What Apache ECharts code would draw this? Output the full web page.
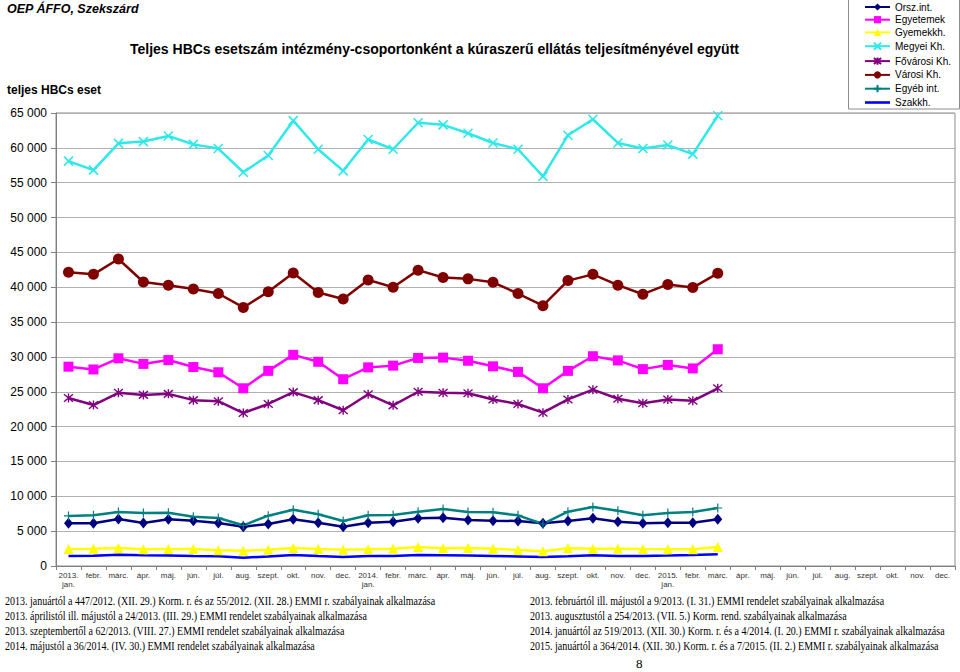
<!DOCTYPE html>
<html>
<head>
<meta charset="utf-8">
<script src="https://cdn.jsdelivr.net/npm/echarts@6/dist/echarts.min.js"></script>
<style>
html,body{margin:0;padding:0;background:#fff;}
#chart{width:960px;height:672px;}
</style>
</head>
<body>
<div id="chart"></div>
<script>
const categories = [
  '2013.\njan.','febr.','márc.','ápr.','máj.','jún.','júl.','aug.','szept.','okt.','nov.','dec.',
  '2014.\njan.','febr.','márc.','ápr.','máj.','jún.','júl.','aug.','szept.','okt.','nov.','dec.',
  '2015.\njan.','febr.','márc.','ápr.','máj.','jún.','júl.','aug.','szept.','okt.','nov.','dec.'
];
const yTicks = { min: 0, max: 65000, interval: 5000 };

const orszInt   = [6130,6130,6740,6170,6700,6500,6170,5640,6030,6700,6210,5640,6210,6360,6840,6930,6600,6500,6460,6130,6460,6840,6360,6130,6210,6210,6700];
const egyetemek = [28600,28200,29800,29000,29550,28550,27800,25500,28000,30300,29300,26800,28500,28750,29850,29900,29450,28650,27850,25500,28000,30100,29500,28250,28850,28350,31100];
const gyermek   = [2440,2490,2580,2400,2440,2440,2250,2200,2340,2580,2440,2340,2400,2490,2730,2540,2580,2490,2300,2110,2540,2490,2490,2440,2400,2400,2730];
const megyei    = [58100,56800,60650,60900,61700,60500,59900,56500,58900,63900,59800,56700,61200,59800,63600,63300,62100,60700,59800,55900,61800,64100,60700,59900,60400,59100,64600];
const fovarosi  = [24100,23100,24850,24550,24700,23800,23650,21950,23250,24950,23800,22350,24650,23050,25000,24850,24800,23900,23250,22000,23900,25300,24000,23350,23900,23700,25500];
const varosi    = [42150,41850,44050,40750,40300,39750,39100,37100,39350,42050,39250,38300,41050,40000,42450,41400,41200,40700,39100,37350,40950,41850,40300,39000,40400,39950,42000];
const egyeb     = [7180,7270,7750,7600,7650,7080,6890,5840,7220,8080,7420,6460,7270,7320,7790,8180,7750,7700,7270,6030,7790,8470,7940,7270,7600,7750,8320];
const szakkh    = [1430,1480,1620,1540,1500,1430,1390,1190,1360,1580,1430,1290,1430,1430,1580,1540,1500,1430,1360,1290,1390,1540,1430,1430,1500,1580,1680];

const seriesNames = ['Orsz.int.','Egyetemek','Gyemekkh.','Megyei Kh.','Fővárosi Kh.','Városi Kh.','Egyéb int.','Szakkh.'];

const footLeft = [
  '2013. januártól a 447/2012. (XII. 29.) Korm. r. és az 55/2012. (XII. 28.) EMMI r. szabályainak alkalmazása',
  '2013. áprilistól ill. májustól a 24/2013. (III. 29.) EMMI rendelet szabályainak alkalmazása',
  '2013. szeptembertől a 62/2013. (VIII. 27.) EMMI rendelet szabályainak alkalmazása',
  '2014. májustól a 36/2014. (IV. 30.) EMMI rendelet szabályainak alkalmazása'
];
const footRight = [
  '2013. februártól ill. májustól a 9/2013. (I. 31.) EMMI rendelet szabályainak alkalmazása',
  '2013. augusztustól a 254/2013. (VII. 5.) Korm. rend. szabályainak alkalmazása',
  '2014. januártól az 519/2013. (XII. 30.) Korm. r. és a 4/2014. (I. 20.) EMMI r. szabályainak alkalmazása',
  '2015. januártól a 364/2014. (XII. 30.) Korm. r. és a 7/2015. (II. 2.) EMMI r. szabályainak alkalmazása'
];

const X_PATH = 'path://M0,0L10,10M10,0L0,10';
const STAR_PATH = 'path://M0,0L10,10M10,0L0,10M5,-1L5,11';
const PLUS_PATH = 'path://M5,0L5,10M0,5L10,5';

function mk(name, data, color, symbol, size, opts) {
  opts = opts || {};
  return {
    name: name, type: 'line', data: data,
    symbol: symbol, symbolSize: size,
    showSymbol: symbol !== 'none',
    lineStyle: { color: color, width: 2.5 },
    itemStyle: { color: opts.fill || color, borderColor: color, borderWidth: opts.bw || 0 },
    emphasis: { disabled: true },
    animation: false,
    z: opts.z || 2
  };
}

const series = [
  mk(seriesNames[0], orszInt, '#000080', 'diamond', [9, 11]),
  mk(seriesNames[1], egyetemek, '#FF00FF', 'rect', 10),
  mk(seriesNames[2], gyermek, '#FFFF00', 'triangle', 10),
  mk(seriesNames[3], megyei, '#2EE8EA', X_PATH, 9, { bw: 1.6, fill: 'none' }),
  mk(seriesNames[4], fovarosi, '#800080', STAR_PATH, 9, { bw: 1.4, fill: 'none' }),
  mk(seriesNames[5], varosi, '#800000', 'circle', 11),
  mk(seriesNames[6], egyeb, '#008080', PLUS_PATH, 9, { bw: 1.2, fill: 'none' }),
  mk(seriesNames[7], szakkh, '#0000FF', 'none', 0)
];

const legendData = seriesNames.map((n, i) => i === 7
  ? { name: n, icon: 'path://M0,0L25,0L25,2.6L0,2.6Z', itemStyle: { color: '#0000FF' } }
  : { name: n });

const graphics = [
  { type: 'text', left: 7, top: 2, style: { text: 'OEP ÁFFO, Szekszárd', font: 'italic bold 12.5px Arial, "Liberation Sans"', fill: '#000' } },
  { type: 'text', left: 130, top: 42, style: { text: 'Teljes HBCs esetszám intézmény-csoportonként a kúraszerű ellátás teljesítményével együtt', font: 'bold 14px Arial, "Liberation Sans"', fill: '#000' } },
  { type: 'text', left: 7, top: 84, style: { text: 'teljes HBCs eset', font: 'bold 12px Arial, "Liberation Sans"', fill: '#000' } },
  { type: 'rect', shape: { x: 848.5, y: -1, width: 111, height: 110 }, style: { fill: 'none', stroke: '#8c8c8c', lineWidth: 1 }, z: 0 },
  { type: 'text', left: 636, top: 657, style: { text: '8', font: '13px "Liberation Serif", "Times New Roman"', fill: '#000' } }
];
const rowsY = [595, 610, 625, 640];
footLeft.forEach((t, i) => graphics.push({ type: 'text', x: 5, y: rowsY[i], scaleX: 0.87, style: { text: t, font: '11.5px "Liberation Serif", "Times New Roman"', fill: '#000' } }));
footRight.forEach((t, i) => graphics.push({ type: 'text', x: 530, y: rowsY[i], scaleX: 0.87, style: { text: t, font: '11.5px "Liberation Serif", "Times New Roman"', fill: '#000' } }));

const chart = echarts.init(document.getElementById('chart'), null, { renderer: 'svg' });
chart.setOption({
  animation: false,
  backgroundColor: '#fff',
  grid: { left: 56, right: 5, top: 113, bottom: 106, show: true, borderColor: '#8c8c8c', borderWidth: 1 },
  legend: {
    data: legendData, orient: 'vertical', left: 862, top: 0,
    padding: [2, 2, 2, 2], itemWidth: 25, itemHeight: 9, itemGap: 2.7,
    textStyle: { fontSize: 10, color: '#000', fontFamily: 'Arial, "Liberation Sans"' },
    selectedMode: false
  },
  xAxis: {
    type: 'category', data: categories, boundaryGap: true,
    axisLine: { lineStyle: { color: '#808080' } },
    axisTick: { show: true, length: 4, lineStyle: { color: '#808080' } },
    axisLabel: { interval: 0, fontSize: 8, color: '#333', margin: 5, lineHeight: 9, fontFamily: 'Arial, "Liberation Sans"' },
    splitLine: { show: false }
  },
  yAxis: {
    type: 'value', min: yTicks.min, max: yTicks.max, interval: yTicks.interval,
    axisLine: { show: true, lineStyle: { color: '#808080' } },
    axisTick: { show: true, length: 5, lineStyle: { color: '#808080' } },
    axisLabel: { fontSize: 12, color: '#000', margin: 9, fontFamily: 'Arial, "Liberation Sans"',
      formatter: v => String(v).replace(/\B(?=(\d{3})+(?!\d))/g, ' ') },
    splitLine: { show: true, lineStyle: { color: '#b0b0b0', width: 1 } }
  },
  series: series,
  graphic: graphics
});
</script>
</body>
</html>
